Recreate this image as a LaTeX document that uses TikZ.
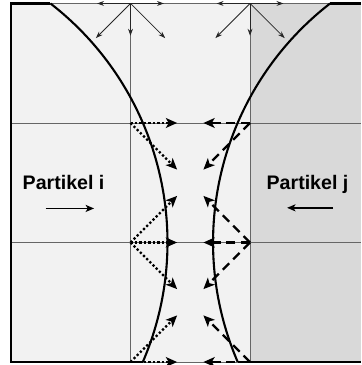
\documentclass[tikz,border=0pt]{standalone}
\usepackage{fontspec}
\setmainfont{Liberation Sans}
\usetikzlibrary{arrows.meta}

\definecolor{hellgrau}{gray}{0.95}
\definecolor{dunkelgrau}{gray}{0.85}
\definecolor{gitter}{gray}{0.4}

\tikzset{
    gitterlinie/.style={gitter, line width=0.65pt},
    rand/.style={black, line width=1.7pt},
    kontur/.style={black, line width=1.5pt},
    klein/.style={-{Stealth[length=5pt, width=3.5pt]}, line width=0.55pt, black!85},
    pfeili/.style={-{Stealth[length=8pt, width=7pt, inset=2pt]}, line width=1.6pt, dash pattern=on 1.6pt off 1.6pt},
    pfeilj/.style={-{Stealth[length=8pt, width=7pt, inset=2pt]}, line width=1.6pt, dash pattern=on 6.5pt off 4pt},
    bewegung/.style={-{Stealth[length=6pt, width=5pt, inset=1.5pt]}, line width=1.3pt},
    beschriftung/.style={font=\bfseries\fontsize{14}{16}\selectfont, anchor=base, inner sep=0pt}
}

\begin{document}
\begin{tikzpicture}[x=3cm, y=3cm]
    \useasboundingbox (-0.092,-0.025) rectangle (2.929,3.029);
    % Hintergrund
    \fill[hellgrau] (0,0) rectangle (2,3);
    \fill[dunkelgrau] (2,0) rectangle (2.929,3);
    % Gitter
    \foreach \x in {1,2} {
        \draw[gitterlinie] (\x,0) -- (\x,3);
    }
    \foreach \y in {1,2,3} {
        \draw[gitterlinie] (0,\y) -- (2.929,\y);
    }
    \draw[gitterlinie] (1.104,0) -- (1.896,0);
    % Rand
    \draw[rand] (0.33,3) -- (0,3) -- (0,0) -- (1.104,0);
    \draw[rand] (1.896,0) -- (2.929,0);
    \draw[rand] (2.67,3) -- (2.929,3);
    % Konturen der Partikel
    \draw[kontur] (0.33,3) arc[start angle=52.2, end angle=-23.28, radius=2.53];
    \draw[kontur] (2.67,3) arc[start angle=127.8, end angle=203.28, radius=2.53];
    % Punkte
    \foreach \y in {0,1,2} {
        \coordinate (i\y) at (1,\y);
        \coordinate (j\y) at (2,\y);
    }
    \coordinate (oben1) at (1,3);
    \coordinate (oben2) at (2,3);
    % obere Reihe
    \foreach \p in {oben1,oben2} {
        \draw[klein] (\p) -- ++(-0.28,0);
        \draw[klein] (\p) -- ++(0.28,0);
        \draw[klein] (\p) -- ++(0,-0.27);
        \draw[klein] (\p) -- ++(-0.29,-0.29);
        \draw[klein] (\p) -- ++(0.29,-0.29);
    }
    % Partikel i und j
    \foreach \y in {0,1,2} {
        \draw[pfeili] (i\y) -- ++(0.39,0);
        \draw[pfeilj] (j\y) -- ++(-0.39,0);
    }
    \foreach \y in {0,1} {
        \draw[pfeili] (i\y) -- ++(0.39,0.39);
        \draw[pfeilj] (j\y) -- ++(-0.39,0.39);
    }
    \foreach \y in {1,2} {
        \draw[pfeili] (i\y) -- ++(0.39,-0.39);
        \draw[pfeilj] (j\y) -- ++(-0.39,-0.39);
    }
    % Beschriftung
    \node[beschriftung] (labeli) at (0.44,1.44) {Partikel i};
    \node[beschriftung] (labelj) at (2.481,1.44) {Partikel j};
    \coordinate (vi) at (0.29,1.285);
    \coordinate (vj) at (2.695,1.29);
    \draw[bewegung] (vi) -- ++(0.405,0);
    \draw[bewegung] (vj) -- ++(-0.385,0);
\end{tikzpicture}
\end{document}
